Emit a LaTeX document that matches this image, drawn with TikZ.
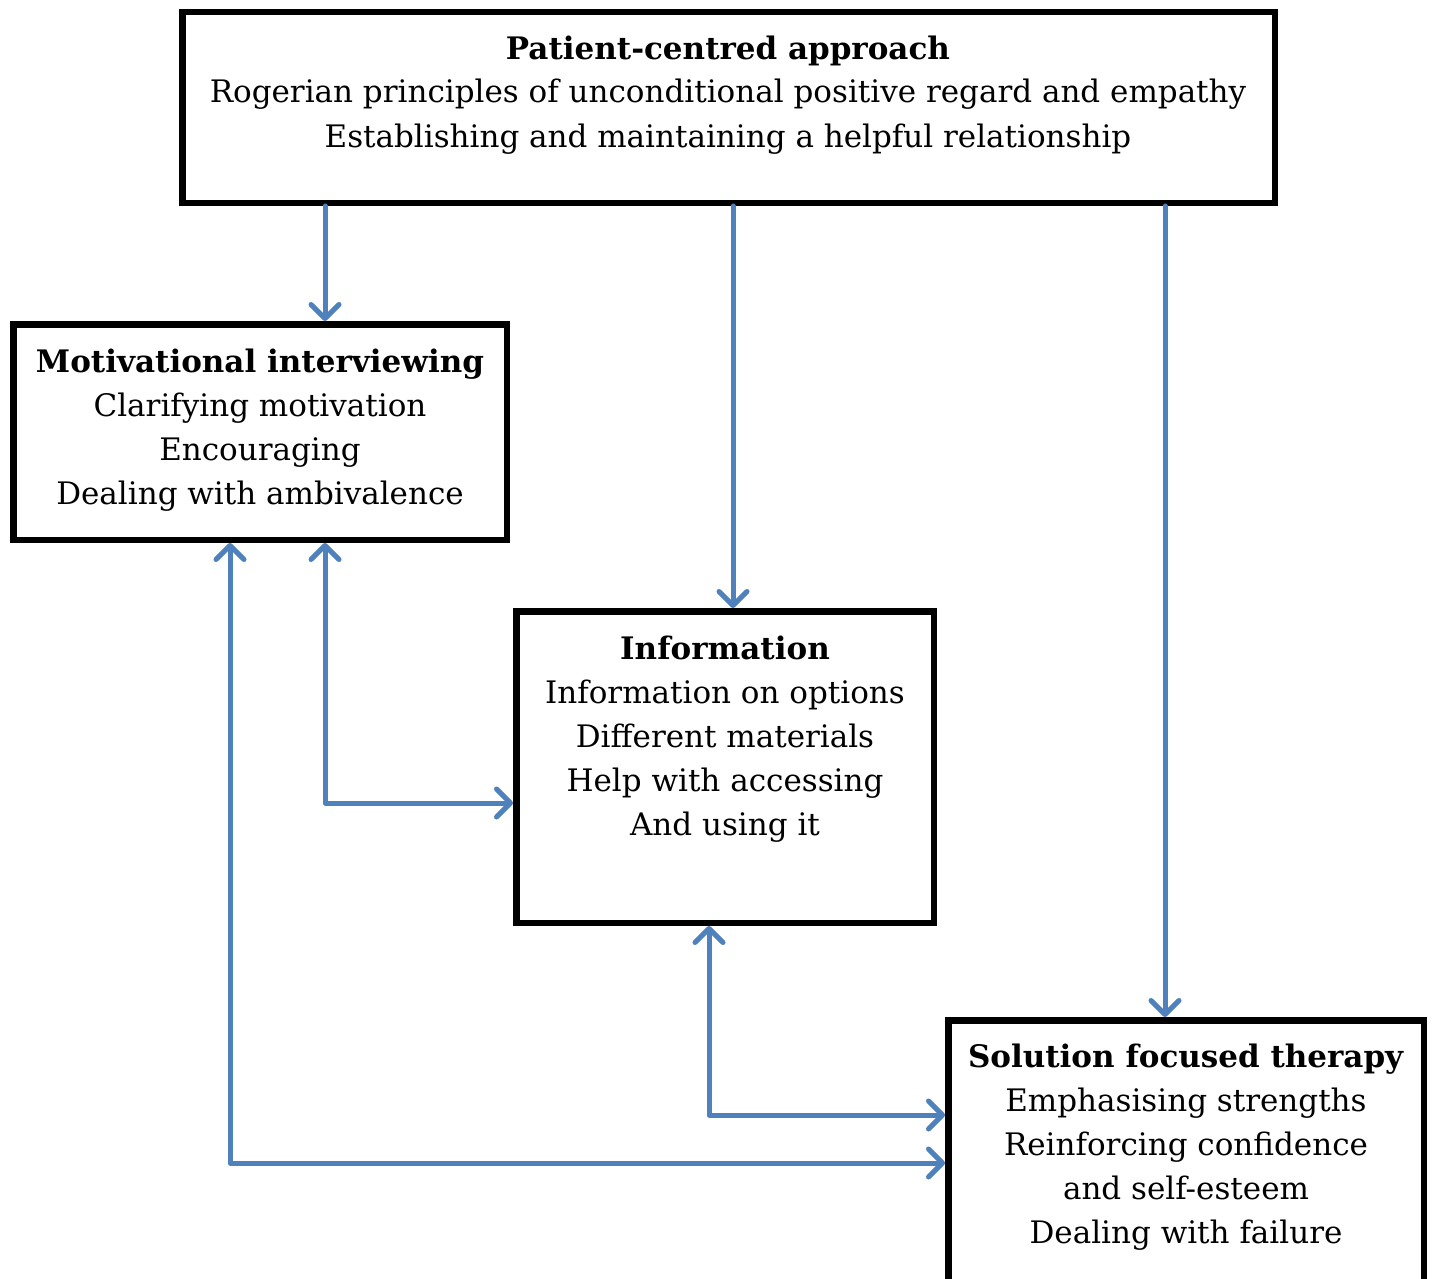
\documentclass[tikz,border=0pt]{standalone}
\usepackage{fontspec}
\setmainfont{DejaVu Serif}
\usetikzlibrary{arrows.meta}
\definecolor{conblue}{HTML}{4F81BD}
\tikzset{
  box/.style={draw=black, line width=6.5pt, fill=white, inner sep=0pt, anchor=north west},
  txt/.style={align=center, inner sep=0pt, anchor=base, font=\fontsize{31}{44}\selectfont},
  conn/.style={draw=conblue, line width=5pt, line cap=round, line join=round, -{Straight Barb[length=14pt,width=28pt,line cap=round,line join=round]}},
  conn2/.style={conn, {Straight Barb[length=14pt,width=28pt,line cap=round,line join=round]}-{Straight Barb[length=14pt,width=28pt,line cap=round,line join=round]}}
}
\begin{document}
\begin{tikzpicture}[x=1pt,y=-1pt]
\useasboundingbox (0,0) rectangle (1432,1279);
\fill[white] (0,0) rectangle (1432,1279);
\clip (0,0) rectangle (1432,1279);
\node[box, minimum width=1092.5pt, minimum height=190.5pt] (top) at (179,9) {};
\node[box, minimum width=493.5pt, minimum height=215.5pt] (mi) at (10,321) {};
\node[box, minimum width=417.5pt, minimum height=311.5pt] (info) at (513,608) {};
\node[box, minimum width=475.5pt, minimum height=300pt] (sft) at (945,1017) {};
\node[txt] (toptxt) at (728,147) {\textbf{Patient-centred approach}\\Rogerian principles of unconditional positive regard and empathy\\Establishing and maintaining a helpful relationship};
\node[txt] (mitxt) at (260,504) {\textbf{Motivational interviewing}\\Clarifying motivation\\Encouraging\\Dealing with ambivalence};
\node[txt] (infotxt) at (725,835) {\textbf{Information}\\Information on options\\Different materials\\Help with accessing\\And using it};
\node[txt] (sfttxt) at (1186,1243) {\textbf{Solution focused therapy}\\Emphasising strengths\\Reinforcing confidence\\and self-esteem\\Dealing with failure};
\coordinate (c1) at (325,0);
\coordinate (c2) at (733,0);
\coordinate (c3) at (1165,0);
\coordinate (c4) at (230,0);
\coordinate (c5) at (709,0);
\coordinate (r1) at (0,803);
\coordinate (r2) at (0,1115);
\coordinate (r3) at (0,1163);
\draw[conn] (top.south -| c1) -- (mi.north -| c1);
\draw[conn] (top.south -| c2) -- (info.north -| c2);
\draw[conn] (top.south -| c3) -- (sft.north -| c3);
\draw[conn2] (mi.south -| c1) |- (info.west |- r1);
\draw[conn2] (mi.south -| c4) |- (sft.west |- r3);
\draw[conn2] (info.south -| c5) |- (sft.west |- r2);
\end{tikzpicture}
\end{document}
